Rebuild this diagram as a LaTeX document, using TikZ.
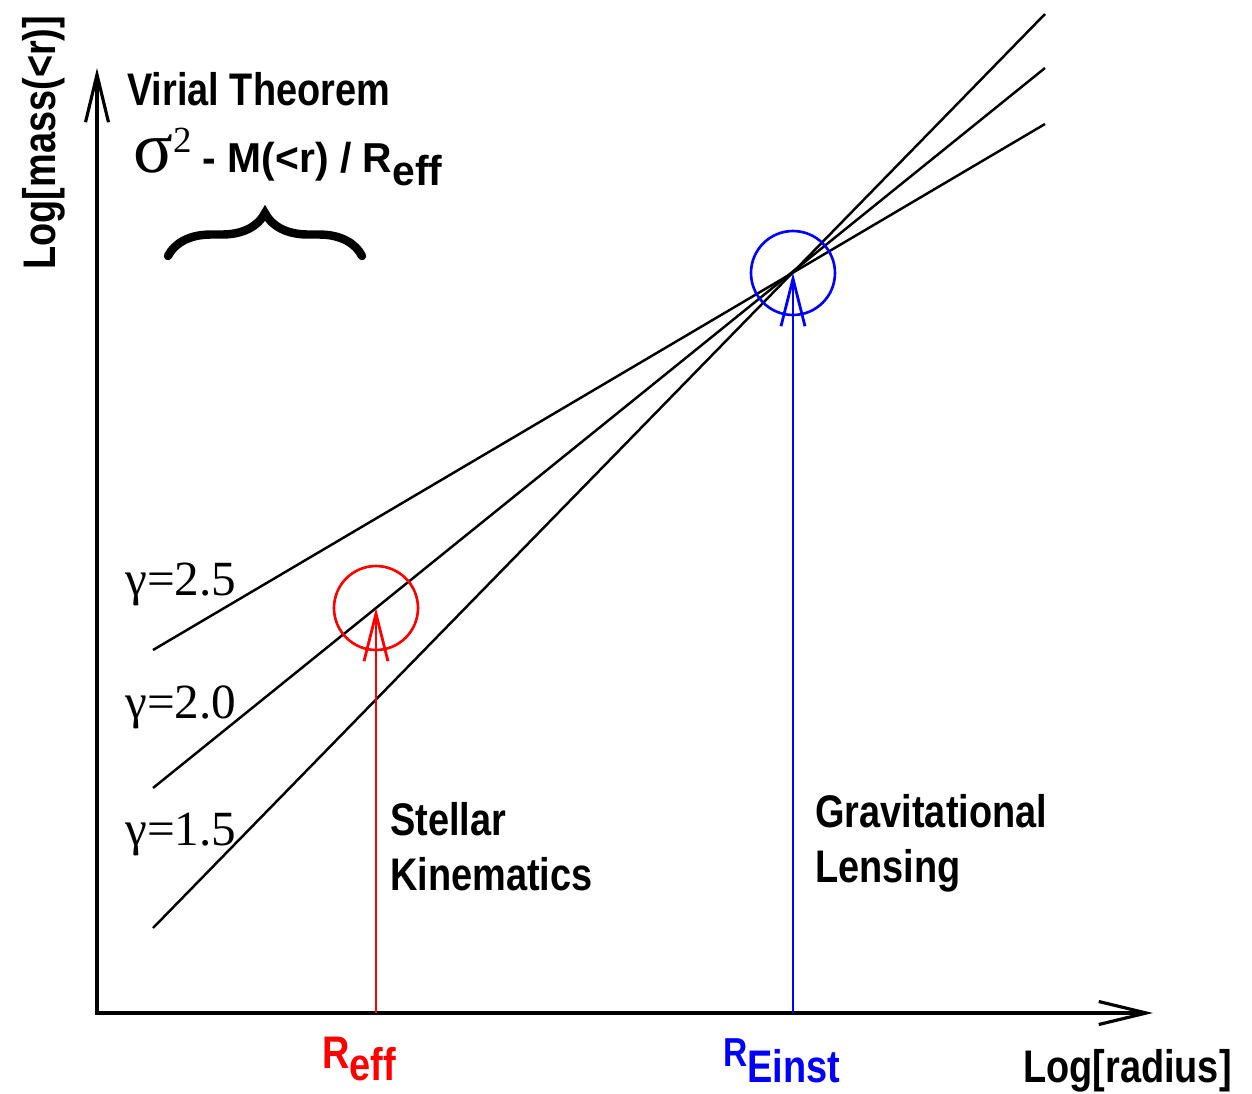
\documentclass[tikz,border=0pt]{standalone}
\usepackage{fontspec}
\setmainfont{Liberation Sans}[FakeStretch=0.83]
\newfontfamily\timesfont{Liberation Serif}
\usetikzlibrary{arrows.meta,decorations.pathreplacing}

\begin{document}
\begin{tikzpicture}[x=0.02cm,y=-0.02cm,
  axis/.style={line width=1.8pt,
    {Straight Barb[length=0.95cm,width=0.46cm]}-{Straight Barb[length=0.95cm,width=0.46cm]}},
  slope/.style={line width=1.4pt},
  probe/.style={line width=1.6pt,-{Straight Barb[length=0.95cm,width=0.48cm]}},
  ring/.style={line width=1.5pt},
  lbl/.style={font=\fontsize{26}{31}\selectfont\bfseries,inner sep=0pt},
  gam/.style={font=\fontsize{28}{32}\selectfont\timesfont,inner sep=0pt,anchor=base west}]
\useasboundingbox (0,0) rectangle (1252,1093);

% axes
\coordinate (O) at (97,1013);
\coordinate (ytip) at (97,68);
\coordinate (xtip) at (1153,1013);
\draw[axis] (ytip) -- (O) -- (xtip);
\node[lbl,rotate=90,anchor=base west] (ylabel) at (55,270) {Log[mass(<r)]};
\node[lbl,anchor=base east] (xlabel) at (1232,1082) {Log[radius]};

% power laws
\draw[slope] (153,650) -- (1045,124);
\draw[slope] (153,788) -- (1045,68);
\draw[slope] (153,928) -- (1045,14);
\node[gam] (g25) at (125,595) {γ=2.5};
\node[gam] (g20) at (125,718) {γ=2.0};
\node[gam] (g15) at (125,845) {γ=1.5};

% virial theorem
\node[lbl,anchor=base west] (virial) at (127,105) {Virial Theorem};
\node[inner sep=0pt,anchor=base west] (relation) at (133,172)
  {{\timesfont\fontsize{42}{42}\selectfont σ\raisebox{0.4cm}{\fontsize{21}{21}\selectfont 2}}%
   \scalebox{1}[0.85]{\fontsize{28}{28}\selectfont\bfseries\ - M(<r) / R\raisebox{-0.31cm}{eff}}};
\draw[decorate,decoration={brace,amplitude=0.86cm},line width=4.8pt,line cap=round]
  (168,256) -- (362,256);

% stellar kinematics
\coordinate (kin) at (376,608);
\coordinate (reffaxis) at (376,1013);
\draw[ring,red] (kin) circle[radius=0.84cm];
\draw[probe,red] (reffaxis) -- (kin);
\node[lbl,red,anchor=base west] (reff) at (322,1068) {R\raisebox{-0.24cm}{eff}};
\node[lbl,align=left,anchor=base west] (stellar) at (390,890) {Stellar\\Kinematics};

% gravitational lensing
\coordinate (lens) at (793,273);
\coordinate (reinstaxis) at (793,1013);
\draw[ring,blue] (lens) circle[radius=0.84cm];
\draw[probe,blue] (reinstaxis) -- (lens);
\node[lbl,blue,anchor=base west] (reinst) at (723,1066)
  {{\fontsize{23}{23}\selectfont R}\raisebox{-0.32cm}{Einst}};
\node[lbl,align=left,anchor=base west] (lensing) at (815,882) {Gravitational\\Lensing};
\end{tikzpicture}
\end{document}
